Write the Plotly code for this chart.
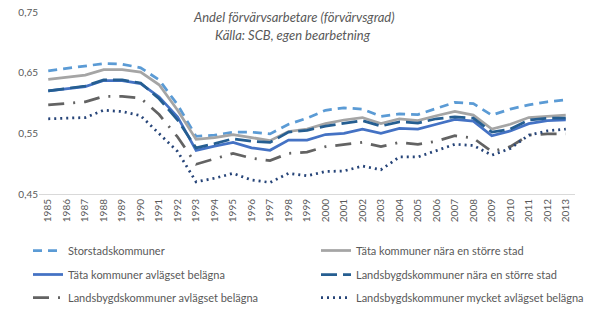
import plotly.graph_objects as go

years = [str(y) for y in range(1985, 2014)]

storstad = [0.653, 0.657, 0.661, 0.665, 0.664, 0.658, 0.638, 0.597, 0.545, 0.547, 0.552, 0.552, 0.549, 0.565, 0.575,
            0.588, 0.592, 0.590, 0.578, 0.582, 0.581, 0.591, 0.601, 0.599, 0.580, 0.590, 0.597, 0.602, 0.605]
tata_nara = [0.639, 0.643, 0.646, 0.655, 0.655, 0.651, 0.630, 0.588, 0.540, 0.543, 0.548, 0.543, 0.538, 0.553, 0.557,
             0.566, 0.572, 0.576, 0.566, 0.574, 0.571, 0.579, 0.586, 0.580, 0.557, 0.565, 0.576, 0.578, 0.580]
tata_avl = [0.620, 0.623, 0.627, 0.637, 0.637, 0.632, 0.610, 0.577, 0.522, 0.529, 0.535, 0.526, 0.522, 0.539, 0.539,
            0.548, 0.550, 0.557, 0.550, 0.558, 0.557, 0.565, 0.573, 0.570, 0.546, 0.554, 0.566, 0.571, 0.572]
lands_nara = [0.620, 0.624, 0.628, 0.638, 0.638, 0.633, 0.607, 0.572, 0.526, 0.533, 0.541, 0.537, 0.535, 0.552, 0.555,
              0.562, 0.566, 0.571, 0.562, 0.569, 0.567, 0.574, 0.577, 0.575, 0.552, 0.557, 0.572, 0.575, 0.575]
lands_avl = [0.597, 0.599, 0.602, 0.611, 0.611, 0.608, 0.581, 0.544, 0.499, 0.508, 0.517, 0.509, 0.505, 0.517, 0.519,
             0.528, 0.531, 0.535, 0.528, 0.535, 0.532, 0.537, 0.546, 0.542, 0.520, 0.528, 0.547, 0.549, 0.549]
lands_mycket = [0.574, 0.575, 0.576, 0.588, 0.586, 0.579, 0.550, 0.520, 0.470, 0.476, 0.484, 0.473, 0.469, 0.484, 0.480,
                0.487, 0.488, 0.496, 0.490, 0.511, 0.511, 0.522, 0.532, 0.530, 0.514, 0.525, 0.547, 0.554, 0.557]

series = [
    ("Storstadskommuner", storstad, "#5B9BD5", "9px,6px"),
    ("Täta kommuner nära en större stad", tata_nara, "#A5A5A5", "solid"),
    ("Täta kommuner avlägset belägna", tata_avl, "#4472C4", "solid"),
    ("Landsbygdskommuner nära en större stad", lands_nara, "#255E91", "16px,6px"),
    ("Landsbygdskommuner avlägset belägna", lands_avl, "#636363", "16px,9px,2px,9px"),
    ("Landsbygdskommuner mycket avlägset belägna", lands_mycket, "#264478", "2px,4px"),
]

FONT = "Lato"
TXT = "#595959"

L, R, T, B = 39, 37, 12, 136
H = 330 - T - B
W = 612 - L - R

def py(px):
    return (330 - B - px) / H

def px_x(px):
    return (px - L) / W

# legend slots: (left px, top px)
slots = [(28, 236), (316, 236), (28, 260), (316, 260), (28, 283), (316, 283)]
legend_names = ["legend", "legend2", "legend3", "legend4", "legend5", "legend6"]

fig = go.Figure()
for (name, vals, col, dash), leg in zip(series, legend_names):
    fig.add_trace(go.Scatter(x=years, y=vals, name=name, mode="lines",
                             line=dict(color=col, width=2.75, dash=dash),
                             legend=leg))

legends = {}
for leg, (lx, ly) in zip(legend_names, slots):
    legends[leg] = dict(orientation="h", xanchor="left", yanchor="top",
                        x=px_x(lx), y=py(ly),
                        font=dict(family=FONT, size=11, color=TXT),
                        bgcolor="rgba(0,0,0,0)")

fig.update_layout(
    width=612, height=330,
    margin=dict(l=L, r=R, t=T, b=B, autoexpand=False),
    paper_bgcolor="white", plot_bgcolor="white",
    separators=", ",
    font=dict(family=FONT, color=TXT),
    showlegend=True,
    **legends,
    xaxis=dict(type="category", range=[-0.5, 28.5], tickangle=-90,
               tickfont=dict(family=FONT, size=10, color=TXT),
               showgrid=False, showline=True, linecolor="#D9D9D9", linewidth=1,
               ticks="", zeroline=False),
    yaxis=dict(range=[0.45, 0.75], dtick=0.1, tick0=0.45, tickformat=".2f",
               tickfont=dict(family=FONT, size=10, color=TXT),
               showgrid=False, showline=False, zeroline=False, ticks=""),
    annotations=[
        dict(text="<i>Andel förvärvsarbetare (förvärvsgrad)</i>", xref="paper", yref="paper",
             x=px_x(294), y=py(17), xanchor="center", yanchor="middle", showarrow=False,
             font=dict(family=FONT, size=13, color=TXT)),
        dict(text="<i>Källa: SCB, egen bearbetning</i>", xref="paper", yref="paper",
             x=px_x(293), y=py(35), xanchor="center", yanchor="middle", showarrow=False,
             font=dict(family=FONT, size=13, color=TXT)),
    ],
)

fig.write_html("out.html")
